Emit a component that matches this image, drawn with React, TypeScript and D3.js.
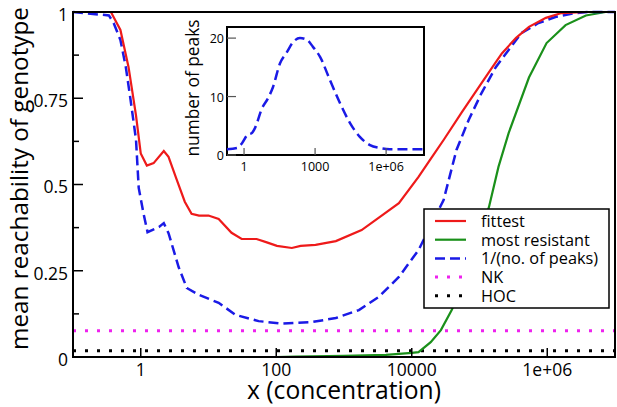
import * as d3 from "d3";

// x values are stored as log10(concentration)
const fittestLog = [-1, -0.44, -0.3, -0.18, -0.07, 0, 0.09, 0.19, 0.34, 0.41, 0.52, 0.65, 0.75, 0.86, 1.0, 1.15, 1.34, 1.49, 1.71, 1.85, 2.01, 2.23, 2.36, 2.58, 2.88, 3.26, 3.51, 3.81, 4.1, 4.3, 4.47, 4.74, 4.94, 5.14, 5.33, 5.54, 5.73, 5.98, 6.21, 6.57, 7];
const fittestVal = [1, 1, 0.948, 0.84, 0.7, 0.59, 0.555, 0.562, 0.597, 0.58, 0.52, 0.45, 0.415, 0.41, 0.41, 0.4, 0.36, 0.342, 0.342, 0.333, 0.322, 0.316, 0.322, 0.325, 0.336, 0.368, 0.403, 0.446, 0.522, 0.58, 0.629, 0.71, 0.768, 0.826, 0.88, 0.925, 0.957, 0.983, 0.997, 1, 1];

const resistantLog = [-1, 0, 1, 2, 2.29, 3.0, 3.62, 4.0, 4.1, 4.28, 4.43, 4.59, 4.8, 4.99, 5.14, 5.28, 5.43, 5.73, 5.99, 6.27, 6.57, 6.86, 7];
const resistantVal = [0, 0, 0, 0, 0.001, 0.003, 0.006, 0.012, 0.014, 0.043, 0.078, 0.136, 0.232, 0.339, 0.435, 0.551, 0.649, 0.81, 0.91, 0.962, 0.99, 1, 1];

const invPeaksLog = [-1, -0.47, -0.4, -0.3, -0.22, -0.15, -0.07, -0.03, 0.04, 0.1, 0.27, 0.34, 0.41, 0.56, 0.68, 0.86, 1.15, 1.4, 1.74, 2.08, 2.52, 2.88, 3.22, 3.51, 3.81, 4.1, 4.47, 4.66, 4.84, 5.03, 5.24, 5.43, 5.62, 5.87, 6.13, 6.42, 6.61, 7];
const invPeaksVal = [1, 0.99, 0.968, 0.919, 0.84, 0.745, 0.63, 0.49, 0.417, 0.362, 0.377, 0.388, 0.359, 0.26, 0.2, 0.18, 0.157, 0.122, 0.104, 0.097, 0.101, 0.113, 0.136, 0.174, 0.232, 0.31, 0.455, 0.6, 0.687, 0.765, 0.84, 0.89, 0.939, 0.968, 0.986, 0.997, 1, 1];

const peaksLog = [-0.72, -0.3, -0.08, 0.13, 0.34, 0.46, 0.76, 1.01, 1.22, 1.52, 1.81, 2.07, 2.36, 2.66, 2.91, 3.21, 3.63, 4.05, 4.47, 4.89, 5.32, 5.74, 6.16, 7.6];
const peaksVal = [1, 1.2, 2.05, 3.4, 3.8, 4.6, 8, 9.7, 11.6, 15.7, 17.6, 19.3, 20, 19.7, 18.5, 16.8, 12.8, 8.9, 5.5, 3.1, 1.7, 1.2, 1, 1];

const nkLevel = 0.076;
const hocLevel = 0.018;

const yTicks = [0, 0.25, 0.5, 0.75, 1];
const yTickLabels = ["0", "0.25", "0.5", "0.75", "1"];
const yMinorTicks = [0.125, 0.375, 0.625, 0.875];
const xTicks = [1, 100, 10000, 1e6];
const xTickLabels = ["1", "100", "10000", "1e+06"];
const insetXTicks = [1, 1000, 1e6];
const insetXTickLabels = ["1", "1000", "1e+06"];
const insetYTicks = [0, 10, 20];

const legendLabels = ["fittest", "most resistant", "1/(no. of peaks)", "NK", "HOC"];

const RED = "#ee1a1a";
const GREEN = "#1a901a";
const BLUE = "#1a1ae6";
const MAGENTA = "#ee22ee";
const FONT = "'Open Sans', 'DejaVu Sans', sans-serif";

const W = 617;
const H = 407;

type Pt = [number, number];
const zip = (lx: number[], v: number[]): Pt[] => lx.map((e, i) => [Math.pow(10, e), v[i]]);

export default function App() {
  const x = d3.scaleLog().domain([0.1, 1e7]).range([73, 615]);
  const y = d3.scaleLinear().domain([0, 1]).range([357, 12]);

  const ix = d3.scaleLog().domain([Math.pow(10, -0.72), Math.pow(10, 7.6)]).range([227, 424]);
  const iy = d3.scaleLinear().domain([0, 21.9]).range([155, 27]);

  const line = d3
    .line<Pt>()
    .x((d) => x(d[0]))
    .y((d) => y(d[1]));
  const insetLine = d3
    .line<Pt>()
    .x((d) => ix(d[0]))
    .y((d) => iy(d[1]))
    .curve(d3.curveMonotoneX);

  const [x0, x1] = x.range();
  const [y0, y1] = y.range();

  const legend = { x: 424, y: 209, w: 185, h: 99, row0: 221, step: 18.7 };
  const legendStyles = [
    { stroke: RED, dash: undefined, width: 2.2 },
    { stroke: GREEN, dash: undefined, width: 2.2 },
    { stroke: BLUE, dash: "10,5", width: 2.5 },
    { stroke: MAGENTA, dash: "3,9", width: 3 },
    { stroke: "#000", dash: "3,9", width: 3 },
  ];

  return (
    <svg
      width={W}
      height={H}
      style={{ position: "absolute", left: 0, top: 0, background: "#fff" }}
      fontFamily={FONT}
    >
      {/* reference levels */}
      <line x1={x0} x2={x1} y1={y(nkLevel)} y2={y(nkLevel)} stroke={MAGENTA} strokeWidth={3} strokeDasharray="3,9" />
      <line x1={x0} x2={x1} y1={y(hocLevel)} y2={y(hocLevel)} stroke="#000" strokeWidth={3} strokeDasharray="3,9" />

      {/* series */}
      <path d={line(zip(resistantLog, resistantVal)) ?? ""} fill="none" stroke={GREEN} strokeWidth={2.2} />
      <path d={line(zip(invPeaksLog, invPeaksVal)) ?? ""} fill="none" stroke={BLUE} strokeWidth={2.5} strokeDasharray="10,5" />
      <path d={line(zip(fittestLog, fittestVal)) ?? ""} fill="none" stroke={RED} strokeWidth={2.2} />

      {/* frame and ticks */}
      <rect x={x0} y={y1} width={x1 - x0} height={y0 - y1} fill="none" stroke="#000" strokeWidth={2} />
      {yTicks.map((t, i) => (
        <g key={"y" + t}>
          <line x1={x0} x2={x0 + 10} y1={y(t)} y2={y(t)} stroke="#000" strokeWidth={1.5} />
          <text x={68} y={y(t)} dy="0.5em" textAnchor="end" fontSize={17.5}>
            {yTickLabels[i]}
          </text>
        </g>
      ))}
      {yMinorTicks.map((t) => (
        <line key={"ym" + t} x1={x0} x2={x0 + 6} y1={y(t)} y2={y(t)} stroke="#000" strokeWidth={1.5} />
      ))}
      {xTicks.map((t, i) => (
        <g key={"x" + t}>
          <line x1={x(t)} x2={x(t)} y1={y0} y2={y0 - 9} stroke="#000" strokeWidth={1.5} />
          <text x={x(t)} y={376} textAnchor="middle" fontSize={17.5}>
            {xTickLabels[i]}
          </text>
        </g>
      ))}
      <text x={(x0 + x1) / 2} y={399} textAnchor="middle" fontSize={25} textLength={194} lengthAdjust="spacingAndGlyphs">
        x (concentration)
      </text>
      <text transform="translate(28,350) rotate(-90)" textAnchor="start" fontSize={24} textLength={343} lengthAdjust="spacingAndGlyphs">
        mean reachability of genotype
      </text>

      {/* inset */}
      <rect x={227} y={27} width={197} height={128} fill="#fff" stroke="#000" strokeWidth={2} />
      <path d={insetLine(zip(peaksLog, peaksVal)) ?? ""} fill="none" stroke={BLUE} strokeWidth={2.5} strokeDasharray="10,5" />
      {insetYTicks.map((t) => (
        <g key={"iy" + t}>
          <line x1={227} x2={236} y1={iy(t)} y2={iy(t)} stroke="#555" strokeWidth={1.2} />
          <text x={224} y={iy(t)} dy="0.4em" textAnchor="end" fontSize={12.5}>
            {t}
          </text>
        </g>
      ))}
      {insetXTicks.map((t, i) => (
        <g key={"ix" + t}>
          <line x1={ix(t)} x2={ix(t)} y1={155} y2={148} stroke="#555" strokeWidth={1.2} />
          <text x={ix(t)} y={171} textAnchor="middle" fontSize={12.5}>
            {insetXTickLabels[i]}
          </text>
        </g>
      ))}
      <text transform="translate(199,88) rotate(-90)" textAnchor="middle" fontSize={18} textLength={137} lengthAdjust="spacingAndGlyphs">
        number of peaks
      </text>

      {/* legend */}
      <rect x={legend.x} y={legend.y} width={legend.w} height={legend.h} fill="#fff" stroke="#000" strokeWidth={1.5} />
      {legendLabels.map((lab, i) => {
        const yy = legend.row0 + i * legend.step;
        const s = legendStyles[i];
        return (
          <g key={lab}>
            <line x1={435} x2={466} y1={yy} y2={yy} stroke={s.stroke} strokeWidth={s.width} strokeDasharray={s.dash} />
            <text x={481} y={yy} dy="0.36em" fontSize={16.3}>
              {lab}
            </text>
          </g>
        );
      })}
    </svg>
  );
}
